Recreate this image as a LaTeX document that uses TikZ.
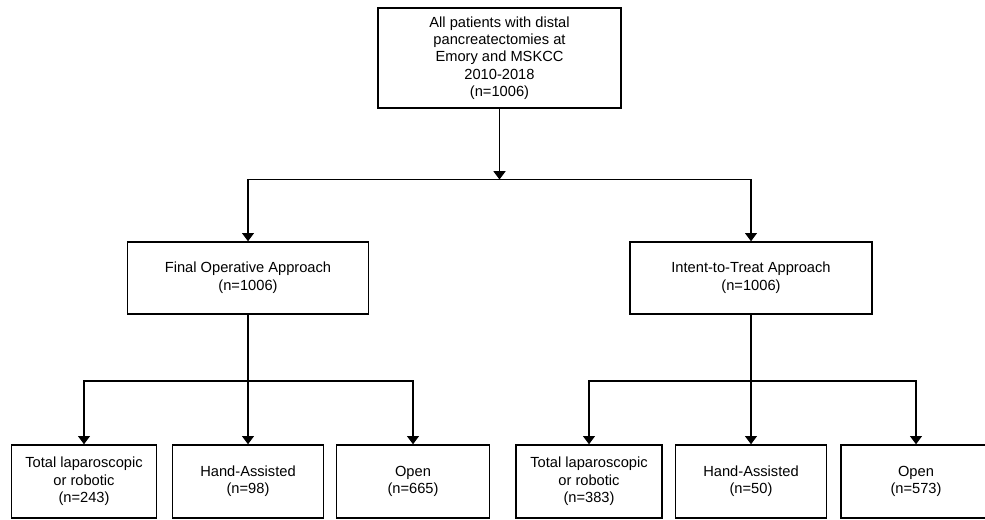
\documentclass[tikz,border=0pt]{standalone}
\usepackage{fontspec}
\setmainfont{Liberation Sans}
\usetikzlibrary{arrows.meta}
\begin{document}
\begin{tikzpicture}[x=0.75pt,y=-0.75pt,
  bx/.style 2 args={draw, line width=1.1pt, align=center, inner sep=0pt,
    minimum width=#1*0.75pt, minimum height=#2*0.75pt,
    font=\fontsize{11pt}{13pt}\selectfont,
    execute at begin node={\rule{0pt}{12.5pt}}},
  midfont/.style={font=\fontsize{11pt}{13.7pt}\selectfont},
  conn/.style={line width=0.8pt},
  arr/.style={conn, -{Triangle[width=9pt,length=6.2pt]}}]
\useasboundingbox (0,0) rectangle (985,519);
\clip (0,0) rectangle (985,519);

% top
\node[bx={243}{100}] (top) at (499.5,58)
  {All patients with distal\\pancreatectomies at\\Emory and MSKCC\\2010-2018\\(n=1006)};

% middle
\node[bx={241}{72}, midfont] (fo) at (248,278) {Final Operative Approach\\(n=1006)};
\node[bx={242}{72}, midfont] (itt) at (751,278) {Intent-to-Treat Approach\\(n=1006)};

% bottom
\node[bx={145}{73}] (b1) at (84,481.5) {Total laparoscopic\\or robotic\\(n=243)};
\node[bx={151}{73}] (b2) at (248,481.5) {Hand-Assisted\\(n=98)};
\node[bx={153}{73}] (b3) at (413,481.5) {Open\\(n=665)};
\node[bx={146}{73}] (b4) at (589,481.5) {Total laparoscopic\\or robotic\\(n=383)};
\node[bx={151}{73}] (b5) at (751,481.5) {Hand-Assisted\\(n=50)};
\node[bx={150}{73}] (b6) at (916,481.5) {Open\\(n=573)};

% junctions
\coordinate (j1) at (499.5,179.5);
\coordinate (j2) at (248,381);
\coordinate (j3) at (751,381);

% connectors
\draw[arr] (top.south) -- (j1);
\draw[arr] (j1) -| (fo.north);
\draw[arr] (j1) -| (itt.north);

\draw[arr] (fo.south) -- (b2.north);
\draw[arr] (j2) -| (b1.north);
\draw[arr] (j2) -| (b3.north);

\draw[arr] (itt.south) -- (b5.north);
\draw[arr] (j3) -| (b4.north);
\draw[arr] (j3) -| (b6.north);
\end{tikzpicture}
\end{document}
